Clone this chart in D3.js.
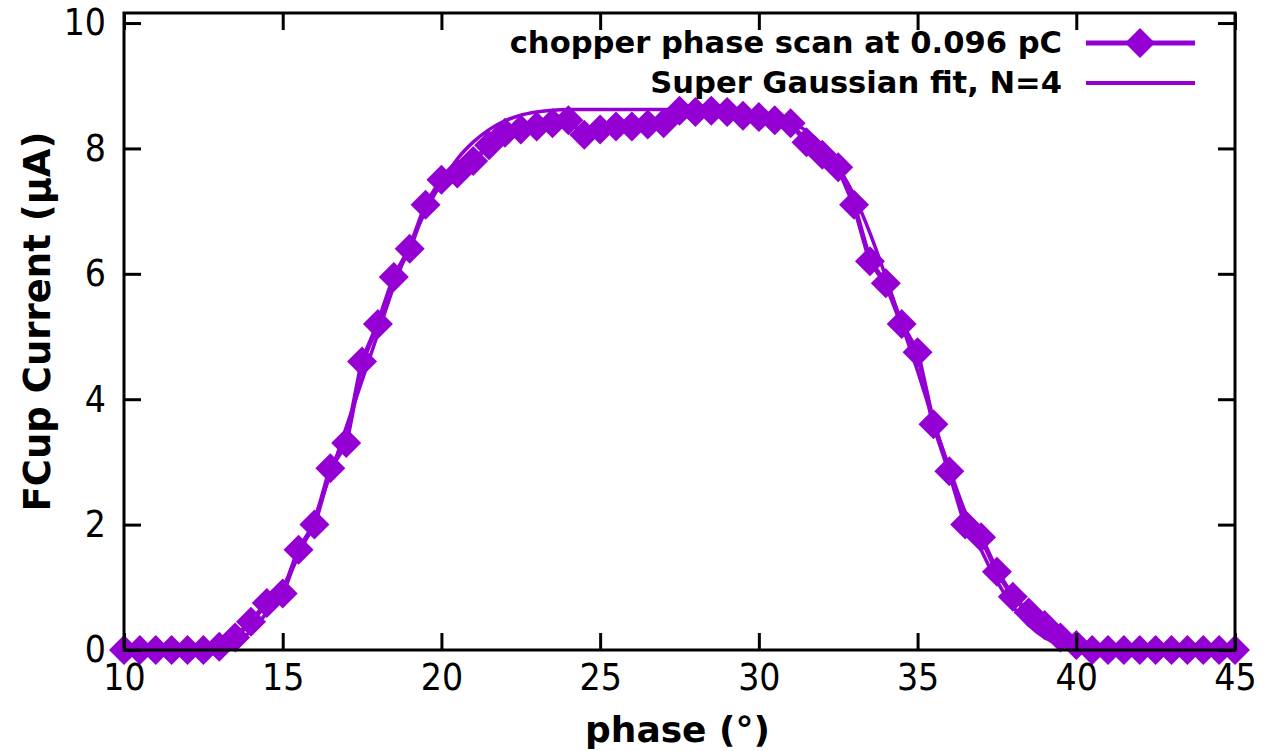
<!DOCTYPE html>
<html>
<head>
<meta charset="utf-8">
<script src="https://cdn.jsdelivr.net/npm/d3@7"></script>
<style>
html,body{margin:0;padding:0;background:#fff;}
svg{display:block;}
.cond{font-family:"DejaVu Sans Condensed","DejaVu Sans",sans-serif;font-stretch:condensed;}
.wide{font-family:"DejaVu Sans",sans-serif;font-weight:bold;}
</style>
</head>
<body>
<svg id="chart" width="1266" height="751"></svg>
<script>
// ---- data ----
const phase = [10,10.5,11,11.5,12,12.5,13,13.5,14,14.5,15,15.5,16,16.5,17,17.5,18,18.5,19,19.5,
  20,20.5,21,21.5,22,22.5,23,23.5,24,24.5,25,25.5,26,26.5,27,27.5,28,28.5,29,29.5,
  30,30.5,31,31.5,32,32.5,33,33.5,34,34.5,35,35.5,36,36.5,37,37.5,38,38.5,39,39.5,
  40,40.5,41,41.5,42,42.5,43,43.5,44,44.5,45];
const current = [0,0,0,0,0,0,0.05,0.2,0.45,0.75,0.9,1.6,2.0,2.9,3.3,4.6,5.2,5.95,6.4,7.1,
  7.5,7.6,7.8,8.05,8.25,8.3,8.35,8.4,8.45,8.22,8.3,8.35,8.35,8.38,8.4,8.6,8.58,8.6,8.58,8.52,
  8.5,8.45,8.4,8.1,7.9,7.7,7.1,6.2,5.85,5.2,4.75,3.6,2.85,2.0,1.8,1.25,0.85,0.6,0.4,0.2,
  0.08,0,0,0,0,0,0,0,0,0,0];
const fitCurrent = [0,0,0,0,0,0.01,0.04,0.12,0.3,0.6,1.0,1.5,2.1,2.8,3.55,4.3,5.05,5.8,6.45,7.0,
  7.45,7.83,8.1,8.3,8.44,8.53,8.58,8.61,8.62,8.62,8.62,8.62,8.62,8.62,8.62,8.62,8.62,8.62,8.62,8.6,
  8.56,8.5,8.42,8.28,8.05,7.7,7.25,6.65,5.95,5.2,4.45,3.65,2.9,2.2,1.6,1.1,0.7,0.4,0.2,0.08,
  0.02,0,0,0,0,0,0,0,0,0,0];
const xTicks = [10,15,20,25,30,35,40,45];
const yTicks = [0,2,4,6,8,10];
const seriesLabels = ["chopper phase scan at 0.096 pC","Super Gaussian fit, N=4"];
const xTitle = "phase (°)";
const yTitle = "FCup Current (μA)";

// ---- layout ----
const L = 124, R = 1235, T = 13, B = 650;
const color = "#9400D3";
const svg = d3.select("#chart");
const x = d3.scaleLinear().domain([10,45]).range([L,R]);
const y = d3.scaleLinear().domain([0,10.16]).range([B,T]);

const pts = phase.map((p,i)=>({x:p,y:current[i]}));
const fit = phase.map((p,i)=>({x:p,y:fitCurrent[i]}));

const line = d3.line().x(d=>x(d.x)).y(d=>y(d.y));
const smooth = d3.line().x(d=>x(d.x)).y(d=>y(d.y)).curve(d3.curveMonotoneX);

// data line
svg.append("path").attr("d",line(pts)).attr("fill","none")
  .attr("stroke",color).attr("stroke-width",5).attr("stroke-linejoin","round");
// diamonds
const dsz = 15;
const diamond = (cx,cy)=>`M${cx},${cy-dsz}L${cx+dsz},${cy}L${cx},${cy+dsz}L${cx-dsz},${cy}Z`;
svg.append("g").selectAll("path").data(pts).join("path")
  .attr("d",d=>diamond(x(d.x),y(d.y))).attr("fill",color);
// fit line
svg.append("path").attr("d",smooth(fit)).attr("fill","none")
  .attr("stroke",color).attr("stroke-width",3.5);

// axes: border + inward ticks (mirrored)
const tickLen = 17;
const axisG = svg.append("g").attr("stroke","#000").attr("stroke-width",3);
axisG.append("rect").attr("x",L).attr("y",T).attr("width",R-L).attr("height",B-T).attr("fill","none");
const xb = d3.axisBottom(x).tickValues(xTicks).tickSize(-tickLen).tickPadding(14).tickFormat(d3.format("d"));
const xt = d3.axisTop(x).tickValues(xTicks).tickSize(-tickLen).tickFormat("");
const yl = d3.axisLeft(y).tickValues(yTicks).tickSize(-tickLen).tickPadding(18).tickFormat(d3.format("d"));
const yr = d3.axisRight(y).tickValues(yTicks).tickSize(-tickLen).tickFormat("");
function styleAxis(g){
  g.select(".domain").remove();
  g.selectAll(".tick line").attr("stroke","#000").attr("stroke-width",3);
  g.selectAll(".tick text").attr("class","cond").attr("fill","#000").style("font-size","37px");
}
svg.append("g").attr("transform",`translate(0,${B})`).call(xb).call(styleAxis);
svg.append("g").attr("transform",`translate(0,${T})`).call(xt).call(styleAxis);
svg.append("g").attr("transform",`translate(${L},0)`).call(yl).call(styleAxis);
svg.append("g").attr("transform",`translate(${R},0)`).call(yr).call(styleAxis);
svg.selectAll(".tick text").attr("font-family",null);

// axis titles
svg.append("text").attr("class","wide").attr("x",(L+R)/2-2).attr("y",742)
  .attr("text-anchor","middle").style("font-size","36px")
  .attr("fill","#000").text(xTitle);
svg.append("text").attr("class","wide").attr("transform",`translate(50,${(T+B)/2-10}) rotate(-90)`)
  .attr("text-anchor","middle").style("font-size","37px")
  .attr("fill","#000").text(yTitle);

// legend
const legY = [43,83];
const lg = svg.append("g");
seriesLabels.forEach((lab,i)=>{
  lg.append("text").attr("class","wide").attr("x",1062).attr("y",legY[i]+10)
    .attr("text-anchor","end").style("font-size","30.6px")
    .attr("fill","#000").text(lab);
  lg.append("line").attr("x1",1086).attr("x2",1195).attr("y1",legY[i]).attr("y2",legY[i])
    .attr("stroke",color).attr("stroke-width",i===0?5:4);
  if(i===0) lg.append("path").attr("d",diamond(1140,legY[i])).attr("fill",color);
});
</script>
</body>
</html>
